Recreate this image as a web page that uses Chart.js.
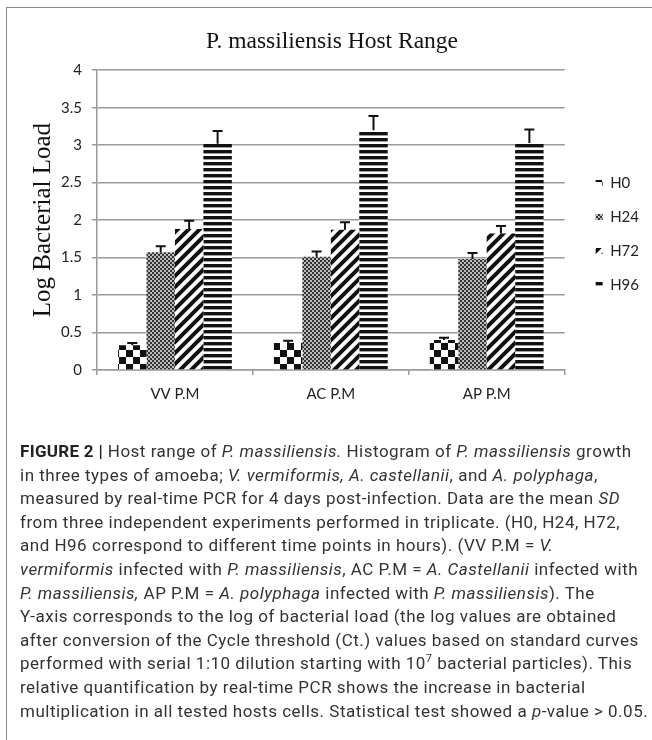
<!DOCTYPE html>
<html>
<head>
<meta charset="utf-8">
<script src="https://cdn.jsdelivr.net/npm/chart.js@4.4.1/dist/chart.umd.min.js"></script>
<style>
    body { margin: 0; background: #fff; }
    #wrap { position: relative; width: 652px; height: 740px; overflow: hidden; }
    #frame { position: absolute; left: 6px; top: 7px; right: -10px; bottom: -10px;
        border-left: 1.5px solid #8a8a8a; border-top: 1.5px solid #8a8a8a; pointer-events: none; }
    #chartBox { position: absolute; left: 0; top: 0; width: 652px; height: 420px; }
    #caption { position: absolute; left: 20px; top: 440px; font-family: Roboto, sans-serif;
        font-size: 17px; letter-spacing: 0.5px; line-height: 23.6px; color: #333; }
    #caption div { white-space: nowrap; }
    #caption b { font-weight: 700; color: #222; letter-spacing: 0.3px; }
    #caption sup { font-size: 11px; line-height: 0; }
</style>
</head>
<body>
<div id="wrap">
    <div id="chartBox"><canvas id="hostRange" width="652" height="420"></canvas></div>
    <div id="frame"></div>
    <div id="caption">
        <div><b>FIGURE 2 |</b> Host range of <i>P. massiliensis.</i> Histogram of <i>P. massiliensis</i> growth</div>
        <div>in three types of amoeba; <i>V. vermiformis, A. castellanii</i>, and <i>A. polyphaga</i>,</div>
        <div>measured by real-time PCR for 4 days post-infection. Data are the mean <i>SD</i></div>
        <div>from three independent experiments performed in triplicate. (H0, H24, H72,</div>
        <div>and H96 correspond to different time points in hours). (VV P.M = <i>V.</i></div>
        <div><i>vermiformis</i> infected with <i>P. massiliensis</i>, AC P.M = <i>A. Castellanii</i> infected with</div>
        <div><i>P. massiliensis,</i> AP P.M = <i>A. polyphaga</i> infected with <i>P. massiliensis</i>). The</div>
        <div>Y-axis corresponds to the log of bacterial load (the log values are obtained</div>
        <div>after conversion of the Cycle threshold (Ct.) values based on standard curves</div>
        <div>performed with serial 1:10 dilution starting with 10<sup>7</sup> bacterial particles). This</div>
        <div>relative quantification by real-time PCR shows the increase in bacterial</div>
        <div>multiplication in all tested hosts cells. Statistical test showed a <i>p</i>-value &gt; 0.05.</div>
    </div>
</div>
<script>
// data
const categories = ['VV P.M', 'AC P.M', 'AP P.M'];
const seriesNames = ['H0', 'H24', 'H72', 'H96'];

const h0 = [0.33, 0.36, 0.40];
const h24 = [1.57, 1.51, 1.48];
const h72 = [1.88, 1.87, 1.82];
const h96 = [3.02, 3.20, 3.03];

const h0Err = [0.03, 0.03, 0.03];
const h24Err = [0.08, 0.07, 0.08];
const h72Err = [0.11, 0.10, 0.10];
const h96Err = [0.17, 0.19, 0.18];

const yTicks = [0, 0.5, 1, 1.5, 2, 2.5, 3, 3.5, 4];

// fill patterns
function makeTile(size, draw) {
    let c = document.createElement('canvas');
    c.width = size;
    c.height = size;
    let g = c.getContext('2d');
    g.fillStyle = '#fff';
    g.fillRect(0, 0, size, size);
    draw(g, size);
    return document.createElement('canvas').getContext('2d').createPattern(c, 'repeat');
}

const checkerBig = makeTile(14, (g) => {
    g.fillStyle = '#111';
    g.fillRect(0, 0, 7, 7);
    g.fillRect(7, 7, 7, 7);
});

const checkerFine = makeTile(4, (g) => {
    g.fillStyle = '#bbb';
    g.fillRect(0, 0, 4, 4);
    g.fillStyle = '#333';
    g.fillRect(0, 0, 2, 2);
    g.fillRect(2, 2, 2, 2);
});

const diagonal = makeTile(11, (g, s) => {
    g.strokeStyle = '#111';
    g.lineWidth = 4;
    g.beginPath();
    g.moveTo(-s, s); g.lineTo(s, -s);
    g.moveTo(0, s); g.lineTo(s, 0);
    g.moveTo(0, 2 * s); g.lineTo(2 * s, 0);
    g.stroke();
});

const horizontal = makeTile(6, (g) => {
    g.fillStyle = '#111';
    g.fillRect(0, 0, 6, 3.4);
});

const values = [h0, h24, h72, h96];
const errors = [h0Err, h24Err, h72Err, h96Err];
const fills = [checkerBig, checkerFine, diagonal, horizontal];

const datasets = seriesNames.map((name, i) => ({
    label: name,
    data: values[i],
    backgroundColor: fills[i],
    borderWidth: 0,
    categoryPercentage: 0.73,
    barPercentage: 1.0
}));

// upper error bars with a cap
const errorBars = {
    id: 'errorBars',
    afterDatasetsDraw(chart) {
        let ctx = chart.ctx;
        let y = chart.scales.y;
        ctx.save();
        ctx.strokeStyle = '#111';
        ctx.lineWidth = 2;
        chart.data.datasets.forEach((ds, i) => {
            chart.getDatasetMeta(i).data.forEach((bar, j) => {
                let top = y.getPixelForValue(ds.data[j] + errors[i][j]);
                ctx.beginPath();
                ctx.moveTo(bar.x, bar.y);
                ctx.lineTo(bar.x, top);
                ctx.moveTo(bar.x - 5, top);
                ctx.lineTo(bar.x + 5, top);
                ctx.stroke();
            });
        });
        ctx.restore();
    }
};

// push the legend a little away from the plot and lower it
const legendShift = {
    id: 'legendShift',
    afterLayout(chart) {
        let lg = chart.legend;
        let dx = chart.chartArea.right + 12 - lg.left;
        lg.left += dx;
        lg.right += dx;
        lg.top += 19;
        lg.bottom += 19;
    }
};

const tickFont = {family: 'Lato', size: 15};
const gridColor = '#9a9a9a';

new Chart(document.getElementById('hostRange'), {
    type: 'bar',
    data: {labels: categories, datasets: datasets},
    plugins: [errorBars, legendShift],
    options: {
        responsive: false,
        animation: false,
        layout: {padding: {left: 27, right: 15, top: 20, bottom: 10}},
        plugins: {
            title: {
                display: true,
                text: 'P. massiliensis Host Range',
                color: '#111',
                font: {family: 'Liberation Serif', size: 23.5, weight: 'normal'},
                padding: {top: 8, bottom: 14}
            },
            legend: {
                position: 'right',
                labels: {
                    color: '#222',
                    font: tickFont,
                    boxWidth: 7,
                    boxHeight: 6,
                    padding: 19
                }
            },
            tooltip: {enabled: false}
        },
        scales: {
            x: {
                grid: {drawOnChartArea: false, drawTicks: true, tickLength: 5, color: gridColor, lineWidth: 1.5},
                border: {color: gridColor, width: 1.5},
                ticks: {color: '#222', font: tickFont, padding: 10},
                afterFit: (scale) => { scale.height = 40; }
            },
            y: {
                min: yTicks[0],
                max: yTicks[yTicks.length - 1],
                ticks: {
                    stepSize: yTicks[1] - yTicks[0],
                    color: '#222',
                    font: tickFont,
                    padding: 10,
                    callback: (v) => String(v)
                },
                grid: {color: gridColor, lineWidth: 1.5, tickLength: 5},
                border: {color: gridColor, width: 1.5},
                title: {
                    display: true,
                    text: 'Log Bacterial Load',
                    color: '#111',
                    font: {family: 'Liberation Serif', size: 25, weight: 'normal'},
                    padding: {top: 1, bottom: 0}
                },
                afterFit: (scale) => { scale.width = 70; }
            }
        }
    }
});
</script>
</body>
</html>
